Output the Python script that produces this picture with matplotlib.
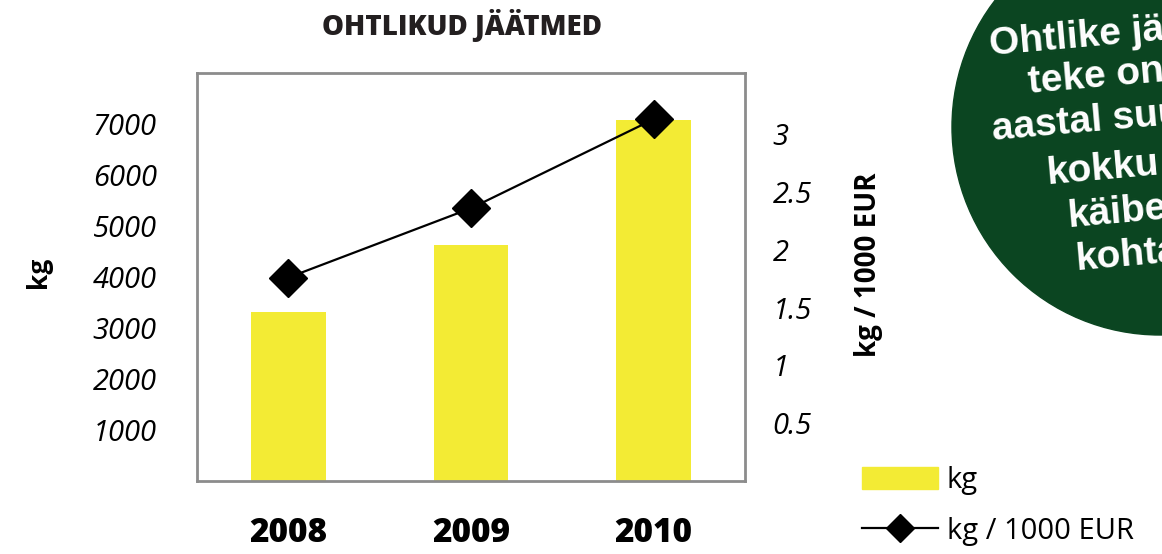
import numpy as np
import matplotlib
matplotlib.use("Agg")
import matplotlib.pyplot as plt
from matplotlib.patches import Circle, Patch
from matplotlib.lines import Line2D

# data
years = ["2008", "2009", "2010"]
kg = [3310, 4630, 7080]
kg_per_1000eur = [1.76, 2.36, 3.13]
left_ticks = [1000, 2000, 3000, 4000, 5000, 6000, 7000]
right_ticks = [0.5, 1, 1.5, 2, 2.5, 3]
right_labels = ["0.5", "1", "1.5", "2", "2.5", "3"]
note_lines = ["Ohtlike jäätmete", "teke on 2010.", "aastal suurenenud",
              "kokku", "käibe", "kohta"]

W, H = 1162, 554
plt.rcParams['font.family'] = ['Open Sans', 'DejaVu Sans']
yellow = "#f3eb34"
green = "#0b4521"

fig = plt.figure(figsize=(W / 100, H / 100), dpi=100)
ax = fig.add_axes([197 / W, 1 - 481 / H, (745 - 197) / W, (481 - 73) / H])
x = np.arange(len(years))
ax.bar(x, kg, width=0.41, color=yellow, zorder=2)
ax.set_xlim(-0.5, 2.5)
ax.set_ylim(0, 8000)
ax.set_yticks(left_ticks)
ax.set_yticklabels([str(t) for t in left_ticks], fontsize=21, fontstyle='italic')
ax.set_xticks(x)
ax.set_xticklabels(years, fontsize=24, fontweight='heavy')
ax.tick_params(axis='y', length=0, pad=29)
ax.tick_params(axis='x', length=0, pad=25)
for s in ax.spines.values():
    s.set_color("#8c8c8c")
    s.set_linewidth(2)
ax.set_ylabel("kg", fontsize=19, fontweight='bold', va='center')
ax.yaxis.set_label_coords((38 - 197) / 548, (481 - 272) / 408)

ax2 = ax.twinx()
ax2.plot(x, kg_per_1000eur, color='black', lw=1.6, marker='D', ms=19,
         zorder=3)
ax2.set_ylim(0, 3.53)
ax2.set_yticks(right_ticks)
ax2.set_yticklabels(right_labels, fontsize=21, fontstyle='italic')
ax2.tick_params(axis='y', length=0, pad=20)
for s in ax2.spines.values():
    s.set_visible(False)
ax2.set_ylabel("kg / 1000 EUR", fontsize=20, fontweight='bold', va='center',
               rotation=90)
ax2.yaxis.set_label_coords((868 - 197) / 548, (481 - 265) / 408)

fig.text(462 / W, 1 - 25 / H, "OHTLIKUD JÄÄTMED", fontsize=20, fontweight='heavy',
         ha='center', va='center', color='#231f20')

# legend
handles = [Patch(color=yellow),
           Line2D([], [], color='black', lw=1.6, marker='D', ms=14)]
fig.legend(handles, ["kg", "kg / 1000 EUR"], loc='upper left',
           bbox_to_anchor=(862 / W, 1 - 466 / H), frameon=False, fontsize=21,
           handlelength=2.6, handleheight=0.8, handletextpad=0.3,
           labelspacing=0.75, borderpad=0, borderaxespad=0)

# green note circle
circ = Circle((11.60, (H - 127) / 100), 2.08, transform=fig.dpi_scale_trans,
              color=green, zorder=0)
fig.add_artist(circ)
note_pos = [(990, 55), (1029, 93), (993, 140), (1047, 184), (1068, 227),
            (1076, 270)]
for txt, (px, py) in zip(note_lines, note_pos):
    fig.text(px / W, 1 - py / H, txt, color='white', fontsize=28,
             fontweight='bold', family=['Liberation Sans', 'DejaVu Sans'],
             ha='left', va='baseline', rotation=5, rotation_mode='anchor')

fig.savefig("out.png", dpi=100)
